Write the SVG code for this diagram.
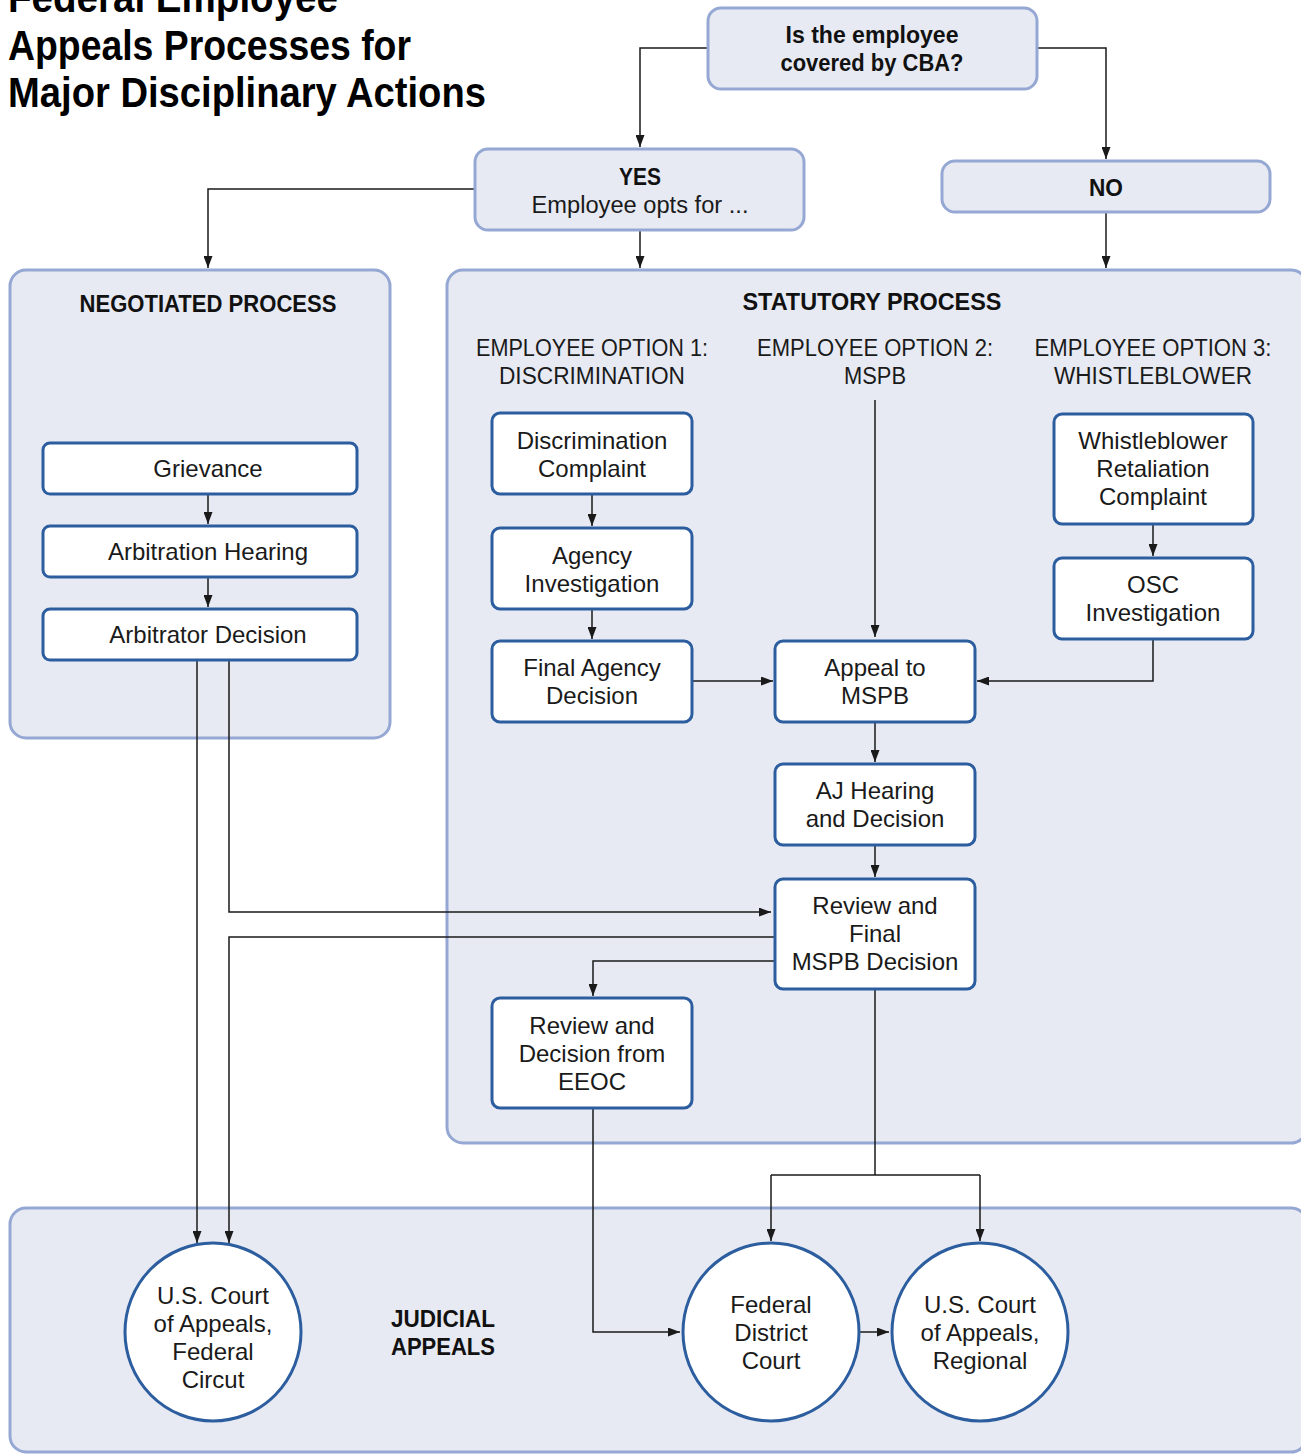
<svg xmlns="http://www.w3.org/2000/svg" width="1301" height="1454" viewBox="0 0 1301 1454">
<style>
.cont{fill:#e7eaf3;stroke:#95a7d3;stroke-width:3}
.node{fill:#ffffff;stroke:#2c5d9f;stroke-width:3}
.top{fill:#e7eaf3;stroke:#95a7d3;stroke-width:3}
.t{font-family:"Liberation Sans",Arial,sans-serif;font-size:24px;fill:#1a1a1a;text-anchor:middle}
.h{font-family:"Liberation Sans",Arial,sans-serif;font-size:23px;font-weight:bold;fill:#111;text-anchor:middle}
.o{font-family:"Liberation Sans",Arial,sans-serif;font-size:23px;fill:#1a1a1a;text-anchor:middle}
.title{font-family:"Liberation Sans",Arial,sans-serif;font-size:43px;font-weight:bold;fill:#000}
.c{fill:none;stroke:#1a1a1a;stroke-width:1.5}
</style>
<defs>
<marker id="ah" markerWidth="12" markerHeight="9" refX="12" refY="4.5" orient="auto" markerUnits="userSpaceOnUse"><path d="M0,0 L12,4.5 L0,9 z" fill="#1a1a1a"/></marker>
</defs>
<rect width="1301" height="1454" fill="#ffffff"/>

<g id="title">
<text class="title" x="8" y="12" textLength="330" lengthAdjust="spacingAndGlyphs">Federal Employee</text>
<text class="title" x="8" y="60" textLength="403" lengthAdjust="spacingAndGlyphs">Appeals Processes for</text>
<text class="title" x="8" y="107" textLength="478" lengthAdjust="spacingAndGlyphs">Major Disciplinary Actions</text>
</g>

<g id="negotiated-process">
<rect class="cont" x="10" y="270" width="380" height="468" rx="16"/>
<text class="h" x="208" y="312" textLength="257" lengthAdjust="spacingAndGlyphs">NEGOTIATED PROCESS</text>
</g>
<g id="statutory-process">
<rect class="cont" x="447" y="270" width="860" height="873" rx="16"/>
<text class="h" x="872" y="310" textLength="259" lengthAdjust="spacingAndGlyphs">STATUTORY PROCESS</text>
<text class="o" x="592" y="356" textLength="232" lengthAdjust="spacingAndGlyphs">EMPLOYEE OPTION 1:</text>
<text class="o" x="592" y="384" textLength="186" lengthAdjust="spacingAndGlyphs">DISCRIMINATION</text>
<text class="o" x="875" y="356" textLength="236" lengthAdjust="spacingAndGlyphs">EMPLOYEE OPTION 2:</text>
<text class="o" x="875" y="384" textLength="62" lengthAdjust="spacingAndGlyphs">MSPB</text>
<text class="o" x="1153" y="356" textLength="237" lengthAdjust="spacingAndGlyphs">EMPLOYEE OPTION 3:</text>
<text class="o" x="1153" y="384" textLength="198" lengthAdjust="spacingAndGlyphs">WHISTLEBLOWER</text>
</g>
<g id="judicial-appeals">
<rect class="cont" x="10" y="1208" width="1297" height="244" rx="16"/>
<text class="h" x="443" y="1327" textLength="104" lengthAdjust="spacingAndGlyphs">JUDICIAL</text>
<text class="h" x="443" y="1355" textLength="104" lengthAdjust="spacingAndGlyphs">APPEALS</text>
</g>

<g id="connectors">
<path class="c" d="M708,48 H640 V147" marker-end="url(#ah)"/>
<path class="c" d="M1037,48 H1106 V159" marker-end="url(#ah)"/>
<path class="c" d="M475,189 H208 V268" marker-end="url(#ah)"/>
<path class="c" d="M640,230 V268" marker-end="url(#ah)"/>
<path class="c" d="M1106,212 V268" marker-end="url(#ah)"/>
<path class="c" d="M208,494 V524" marker-end="url(#ah)"/>
<path class="c" d="M208,577 V607" marker-end="url(#ah)"/>
<path class="c" d="M592,494 V526" marker-end="url(#ah)"/>
<path class="c" d="M592,609 V639" marker-end="url(#ah)"/>
<path class="c" d="M875,400 V637" marker-end="url(#ah)"/>
<path class="c" d="M692,681 H773" marker-end="url(#ah)"/>
<path class="c" d="M1153,524 V556" marker-end="url(#ah)"/>
<path class="c" d="M1153,639 V681 H977" marker-end="url(#ah)"/>
<path class="c" d="M875,722 V762" marker-end="url(#ah)"/>
<path class="c" d="M875,845 V877" marker-end="url(#ah)"/>
<path class="c" d="M229,660 V912 H771" marker-end="url(#ah)"/>
<path class="c" d="M775,937 H229 V1243" marker-end="url(#ah)"/>
<path class="c" d="M197,660 V1243" marker-end="url(#ah)"/>
<path class="c" d="M775,961 H593 V996" marker-end="url(#ah)"/>
<path class="c" d="M875,989 V1175"/>
<path class="c" d="M771,1175 H980"/>
<path class="c" d="M771,1175 V1241" marker-end="url(#ah)"/>
<path class="c" d="M980,1175 V1241" marker-end="url(#ah)"/>
<path class="c" d="M593,1108 V1332 H680" marker-end="url(#ah)"/>
<path class="c" d="M860,1332 H889" marker-end="url(#ah)"/>
</g>

<g id="cba-question">
<rect class="top" x="708" y="8" width="329" height="81" rx="13"/>
<text class="h" x="872" y="43" textLength="173" lengthAdjust="spacingAndGlyphs">Is the employee</text>
<text class="h" x="872" y="71" textLength="183" lengthAdjust="spacingAndGlyphs">covered by CBA?</text>
</g>
<g id="yes">
<rect class="top" x="475" y="149" width="329" height="81" rx="13"/>
<text class="h" x="640" y="185" textLength="42" lengthAdjust="spacingAndGlyphs">YES</text>
<text class="o" x="640" y="213" textLength="217" lengthAdjust="spacingAndGlyphs">Employee opts for ...</text>
</g>
<g id="no">
<rect class="top" x="942" y="161" width="328" height="51" rx="13"/>
<text class="h" x="1106" y="196" textLength="34" lengthAdjust="spacingAndGlyphs">NO</text>
</g>

<g id="grievance">
<rect class="node" x="43" y="443" width="314" height="51" rx="7"/>
<text class="t" x="208" y="477">Grievance</text>
</g>
<g id="arbitration-hearing">
<rect class="node" x="43" y="526" width="314" height="51" rx="7"/>
<text class="t" x="208" y="560">Arbitration Hearing</text>
</g>
<g id="arbitrator-decision">
<rect class="node" x="43" y="609" width="314" height="51" rx="7"/>
<text class="t" x="208" y="643">Arbitrator Decision</text>
</g>

<g id="discrimination-complaint">
<rect class="node" x="492" y="413" width="200" height="81" rx="8"/>
<text class="t" x="592" y="449">Discrimination</text>
<text class="t" x="592" y="477">Complaint</text>
</g>
<g id="agency-investigation">
<rect class="node" x="492" y="528" width="200" height="81" rx="8"/>
<text class="t" x="592" y="564">Agency</text>
<text class="t" x="592" y="592">Investigation</text>
</g>
<g id="final-agency-decision">
<rect class="node" x="492" y="641" width="200" height="81" rx="8"/>
<text class="t" x="592" y="676">Final Agency</text>
<text class="t" x="592" y="704">Decision</text>
</g>
<g id="appeal-to-mspb">
<rect class="node" x="775" y="641" width="200" height="81" rx="8"/>
<text class="t" x="875" y="676">Appeal to</text>
<text class="t" x="875" y="704">MSPB</text>
</g>
<g id="aj-hearing">
<rect class="node" x="775" y="764" width="200" height="81" rx="8"/>
<text class="t" x="875" y="799">AJ Hearing</text>
<text class="t" x="875" y="827">and Decision</text>
</g>
<g id="final-mspb-decision">
<rect class="node" x="775" y="879" width="200" height="110" rx="8"/>
<text class="t" x="875" y="914">Review and</text>
<text class="t" x="875" y="942">Final</text>
<text class="t" x="875" y="970">MSPB Decision</text>
</g>
<g id="eeoc-review">
<rect class="node" x="492" y="998" width="200" height="110" rx="8"/>
<text class="t" x="592" y="1034">Review and</text>
<text class="t" x="592" y="1062">Decision from</text>
<text class="t" x="592" y="1090">EEOC</text>
</g>
<g id="whistleblower-complaint">
<rect class="node" x="1054" y="414" width="199" height="110" rx="8"/>
<text class="t" x="1153" y="449">Whistleblower</text>
<text class="t" x="1153" y="477">Retaliation</text>
<text class="t" x="1153" y="505">Complaint</text>
</g>
<g id="osc-investigation">
<rect class="node" x="1054" y="558" width="199" height="81" rx="8"/>
<text class="t" x="1153" y="593">OSC</text>
<text class="t" x="1153" y="621">Investigation</text>
</g>

<g id="federal-circuit">
<ellipse class="node" cx="213" cy="1332" rx="88" ry="89"/>
<text class="t" x="213" y="1304">U.S. Court</text>
<text class="t" x="213" y="1332">of Appeals,</text>
<text class="t" x="213" y="1360">Federal</text>
<text class="t" x="213" y="1388">Circut</text>
</g>
<g id="district-court">
<ellipse class="node" cx="771" cy="1332" rx="88" ry="89"/>
<text class="t" x="771" y="1313">Federal</text>
<text class="t" x="771" y="1341">District</text>
<text class="t" x="771" y="1369">Court</text>
</g>
<g id="regional-court">
<ellipse class="node" cx="980" cy="1332" rx="88" ry="89"/>
<text class="t" x="980" y="1313">U.S. Court</text>
<text class="t" x="980" y="1341">of Appeals,</text>
<text class="t" x="980" y="1369">Regional</text>
</g>
</svg>
